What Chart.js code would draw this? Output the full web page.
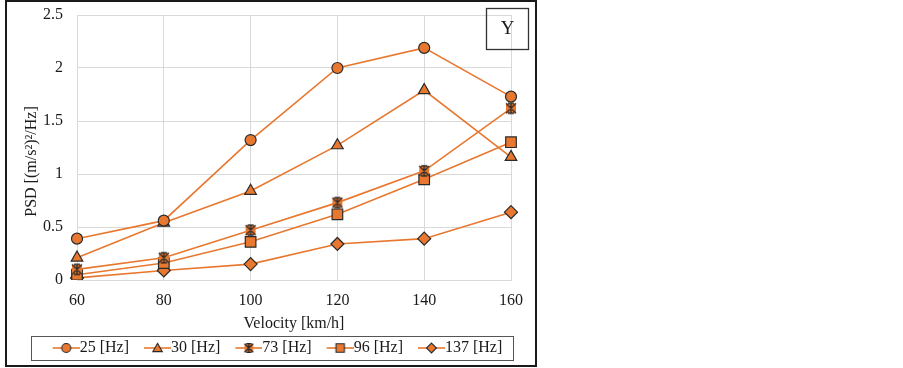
<!DOCTYPE html>
<html><head><meta charset="utf-8">
<script src="https://cdn.jsdelivr.net/npm/chart.js@4/dist/chart.umd.min.js"></script>
<style>html,body{margin:0;padding:0;background:#fff;} #wrap{width:903px;height:368px;position:relative;}</style>
</head><body><div id="wrap"><canvas id="c" width="903" height="368"></canvas></div>
<script>
const velocities = ['60','80','100','120','140','160'];
const seriesNames = ['25 [Hz]','30 [Hz]','73 [Hz]','96 [Hz]','137 [Hz]'];
const psd25 = [0.39,0.56,1.32,2.00,2.19,1.73];
const psd30 = [0.21,0.54,0.84,1.27,1.79,1.16];
const psd73 = [0.10,0.21,0.47,0.73,1.03,1.62];
const psd96 = [0.05,0.16,0.36,0.62,0.95,1.30];
const psd137 = [0.02,0.09,0.15,0.34,0.39,0.64];
const yTickValues = [0,0.5,1,1.5,2,2.5];
const markerKinds = ['circle','triangle','star','rect','diamond'];

const ORANGE = '#E8782F';
const EDGE = '#2a2a2a';
const FONT = 'Liberation Serif';

function drawMarker(ctx, kind, x, y, s) {
  ctx.beginPath();
  if (kind === 'circle') ctx.arc(x, y, s, 0, Math.PI * 2);
  else if (kind === 'triangle') { ctx.moveTo(x, y - s * 1.1); ctx.lineTo(x + s * 1.1, y + s * 0.85); ctx.lineTo(x - s * 1.1, y + s * 0.85); ctx.closePath(); }
  else if (kind === 'rect') ctx.rect(x - s, y - s, 2 * s, 2 * s);
  else if (kind === 'diamond') { ctx.moveTo(x, y - s * 1.15); ctx.lineTo(x + s * 1.15, y); ctx.lineTo(x, y + s * 1.15); ctx.lineTo(x - s * 1.15, y); ctx.closePath(); }
  else if (kind === 'star') { ctx.rect(x - s, y - s, 2 * s, 2 * s); }
  ctx.fillStyle = ORANGE; ctx.fill();
  if (kind === 'star') {
    ctx.lineWidth = 1.3; ctx.strokeStyle = EDGE;
    ctx.beginPath();
    ctx.moveTo(x - s, y - s); ctx.lineTo(x + s, y + s);
    ctx.moveTo(x + s, y - s); ctx.lineTo(x - s, y + s);
    ctx.moveTo(x - s * 0.6, y - s); ctx.lineTo(x + s * 0.6, y - s);
    ctx.moveTo(x - s * 0.6, y + s); ctx.lineTo(x + s * 0.6, y + s);
    ctx.moveTo(x, y - s); ctx.lineTo(x, y + s);
    ctx.stroke();
    return;
  }
  ctx.lineWidth = 1.1; ctx.strokeStyle = EDGE; ctx.stroke();
}
function starImage() {
  const c = document.createElement('canvas'); c.width = 14; c.height = 14;
  drawMarker(c.getContext('2d'), 'star', 7, 7, 5);
  return c;
}
function legendImage(kind) {
  const c = document.createElement('canvas'); c.width = 35; c.height = 16;
  const g = c.getContext('2d');
  g.strokeStyle = ORANGE; g.lineWidth = 1.6;
  g.beginPath(); g.moveTo(8, 8); g.lineTo(35, 8); g.stroke();
  const s = kind === 'circle' ? 4.5 : (kind === 'rect' ? 4.2 : 4.3);
  drawMarker(g, kind, 21.5, 8, s);
  return c;
}

const seriesData = [psd25, psd30, psd73, psd96, psd137];
const pointStyles = ['circle', 'triangle', starImage(), 'rect', 'rectRot'];
const pointRadii = [5.5, 6.7, 6, 7.5, 6.5];

const datasets = seriesNames.map((n, i) => ({
  label: n,
  data: seriesData[i],
  yAxisID: 'y',
  borderColor: ORANGE,
  backgroundColor: ORANGE,
  borderWidth: 1.6,
  pointStyle: pointStyles[i],
  pointRadius: pointRadii[i],
  pointBackgroundColor: ORANGE,
  pointBorderColor: EDGE,
  pointBorderWidth: 1.2,
  tension: 0,
  fill: false
}));
const legendImgs = markerKinds.map(legendImage);

const framePlugin = {
  id: 'frame',
  afterDraw(chart) {
    const ctx = chart.ctx;
    ctx.save();
    ctx.strokeStyle = '#1a1a1a'; ctx.lineWidth = 2;
    ctx.strokeRect(6, 1, 530, 365);
    ctx.lineWidth = 1.3; ctx.strokeStyle = '#333';
    ctx.strokeRect(486.5, 8.5, 42, 41);
    ctx.fillStyle = '#1a1a1a'; ctx.font = '19px "' + FONT + '"';
    ctx.textAlign = 'center'; ctx.textBaseline = 'middle';
    ctx.fillText('Y', 507.5, 29.5);
    const hb = chart.legend.legendHitBoxes;
    if (hb && hb.length) {
      const first = hb[0], last = hb[hb.length - 1];
      const cy = first.top + first.height / 2;
      ctx.lineWidth = 1; ctx.strokeStyle = '#555';
      ctx.strokeRect(Math.round(first.left - 22) + 0.5, Math.round(cy - 12) + 0.5, Math.round(last.left + last.width + 10 - (first.left - 22)), 24);
    }
    ctx.restore();
  }
};

new Chart(document.getElementById('c'), {
  type: 'line',
  data: { labels: velocities, datasets },
  options: {
    responsive: false,
    animation: false,
    events: [],
    layout: { padding: { left: 19, right: 367, top: 15, bottom: 2 } },
    plugins: {
      tooltip: { enabled: false },
      legend: {
        position: 'bottom',
        labels: {
          usePointStyle: true,
          pointStyleWidth: 19,
          boxHeight: 16,
          padding: 15,
          color: '#1a1a1a',
          font: { family: FONT, size: 16 },
          generateLabels: (chart) => chart.data.datasets.map((d, i) => ({
            text: d.label, pointStyle: legendImgs[i], fillStyle: ORANGE, strokeStyle: ORANGE,
            lineWidth: 0, hidden: false, datasetIndex: i, fontColor: '#1a1a1a'
          }))
        }
      }
    },
    scales: {
      x: {
        type: 'category',
        offset: false,
        grid: { color: '#d9d9d9', lineWidth: 1, drawTicks: false },
        border: { color: '#d9d9d9' },
        ticks: { color: '#1a1a1a', font: { family: FONT, size: 16 }, padding: 11, maxRotation: 0 },
        title: { display: true, text: 'Velocity [km/h]', color: '#1a1a1a', font: { family: FONT, size: 16 }, padding: { top: 4, bottom: -8 } },
        afterFit: (s) => { s.height = 45; s.paddingLeft = 0; s.paddingRight = 0; s.paddingTop = 0; s.paddingBottom = 0; }
      },
      y: {
        min: 0, max: 2.5,
        afterBuildTicks: (s) => { s.ticks = yTickValues.map(v => ({ value: v })); },
        grid: { color: '#d9d9d9', lineWidth: 1, drawTicks: false },
        border: { color: '#d9d9d9' },
        ticks: { color: '#1a1a1a', font: { family: FONT, size: 16 }, padding: 14, callback: (v) => String(v) },
        title: { display: true, text: 'PSD [(m/s²)²/Hz]\u00a0\u00a0\u00a0\u00a0\u00a0\u00a0\u00a0', color: '#1a1a1a', font: { family: FONT, size: 16 }, padding: { top: 3, bottom: 0 } },
        afterFit: (s) => { s.width = 58; s.paddingTop = 0; s.paddingBottom = 0; s.paddingLeft = 0; s.paddingRight = 0; }
      },
      spacer: {
        type: 'linear',
        position: 'right',
        display: true,
        grid: { display: false, drawTicks: false },
        border: { display: false },
        ticks: { display: false },
        afterFit: (s) => { s.width = 25; s.paddingTop = 0; s.paddingBottom = 0; s.paddingLeft = 0; s.paddingRight = 0; }
      }
    }
  },
  plugins: [framePlugin]
});
</script>
</body></html>
